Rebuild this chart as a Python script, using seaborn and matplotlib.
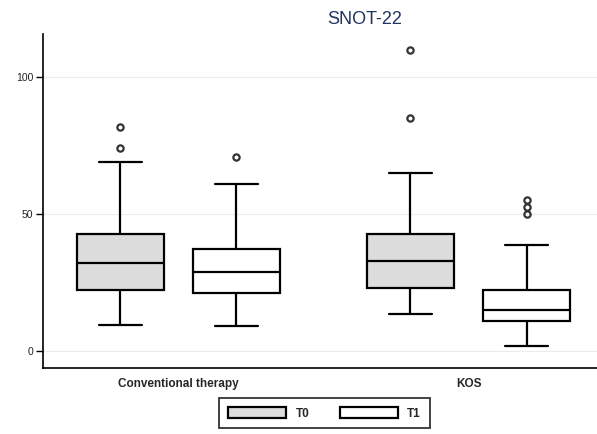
import pandas as pd
import seaborn as sns
import matplotlib.pyplot as plt

groups = ['Conventional therapy', 'KOS']
times = ['T0', 'T1']
conv_t0 = [9.5, 14, 19, 22.3, 26, 29, 32.1, 36, 40, 42.7, 69, 74, 81.8]
conv_t1 = [9.1, 15, 21.0, 25, 28.8, 33, 37.2, 61, 70.8]
kos_t0 = [13.5, 17, 20, 23, 27, 30, 32.8, 36, 40, 42.7, 65, 85, 110]
kos_t1 = [1.8, 4, 7, 9, 11, 12, 13, 14, 15, 17, 19, 21, 22.3, 38.7, 50, 52.5, 55]
y_ticks = [0, 50, 100]

rows = []
for grp, tm, vals in [(groups[0], times[0], conv_t0), (groups[0], times[1], conv_t1),
                      (groups[1], times[0], kos_t0), (groups[1], times[1], kos_t1)]:
    for v in vals:
        rows.append({'group': grp, 'time': tm, 'score': v})
df = pd.DataFrame(rows)

sns.set_style('white')
plt.rcParams['font.family'] = ['Liberation Sans', 'DejaVu Sans']

fig = plt.figure(figsize=(5.97, 4.34), dpi=100)
ax = fig.add_axes([0.072, 0.152, 0.928, 0.7698])

sns.boxplot(data=df, x='group', y='score', hue='time', order=groups, hue_order=times,
            palette={'T0': '#dcdcdc', 'T1': 'white'}, saturation=1,
            width=0.8, gap=0.25, linecolor='black', linewidth=1.6,
            flierprops=dict(marker='o', markerfacecolor='none', markeredgecolor='#333333',
                            markersize=4.5, markeredgewidth=1.6),
            ax=ax)

ax.set_xlim(-0.467, 1.443)
ax.set_ylim(-6.2, 115.7)
ax.set_yticks(y_ticks)
ax.set_yticklabels([str(t) for t in y_ticks], fontsize=7.5, color='#222222')
ax.yaxis.grid(True, color='#ececec', linewidth=0.8)
ax.set_axisbelow(True)
ax.tick_params(axis='y', left=True, length=5, width=1, color='black', pad=2)
ax.tick_params(axis='x', bottom=False, labelsize=8.5, pad=4)
for lbl in ax.get_xticklabels():
    lbl.set_fontweight('bold')
ax.set_xlabel('')
ax.set_ylabel('')
for side in ['top', 'right']:
    ax.spines[side].set_visible(False)
for side in ['left', 'bottom']:
    ax.spines[side].set_color('black')
    ax.spines[side].set_linewidth(1.2)

fig.text(0.611, 0.956, 'SNOT-22', ha='center', va='center', fontsize=13, color='#1f3560')

handles, labels = ax.get_legend_handles_labels()
ax.get_legend().remove()
leg = fig.legend(handles, labels, loc='center', bbox_to_anchor=(0.5436, 0.048), ncol=2,
                 handlelength=4.9, handleheight=1.1, columnspacing=2.6,
                 handletextpad=0.8, frameon=True, fancybox=False, borderpad=0.75,
                 prop={'weight': 'bold', 'size': 8.5})
leg.get_frame().set_edgecolor('black')
leg.get_frame().set_linewidth(1.3)

fig.savefig('out.png', dpi=100)
